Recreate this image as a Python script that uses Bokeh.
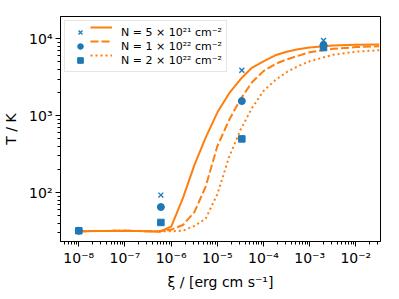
from bokeh.plotting import figure
from bokeh.models import Range1d, Legend, LegendItem, FixedTicker, CustomJSTickFormatter
from bokeh.embed import file_html
from bokeh.resources import INLINE

# ---- data ----
xi_grid = [1e-8, 1e-7, 3e-7, 5.6e-7, 1e-6, 1.8e-6, 3.2e-6, 5.6e-6, 1e-5, 1.8e-5,
           3.2e-5, 5.6e-5, 1e-4, 1.8e-4, 3.2e-4, 5.6e-4, 1e-3, 3.2e-3, 1e-2, 3.2e-2]
T_5e21 = [31.5, 32, 31.5, 31, 36, 85, 230, 520, 1100, 1950,
          3000, 4200, 5100, 6100, 6800, 7300, 7700, 8200, 8400, 8450]
T_1e22 = [31.5, 32, 31.5, 31.5, 33, 38, 56, 120, 400, 880,
          1650, 2700, 3800, 4700, 5400, 6000, 6700, 7400, 7800, 8000]
T_2e22 = [31.5, 32, 31.5, 31.5, 31.5, 32, 37, 46, 95, 290,
          660, 1250, 2100, 2900, 3700, 4400, 5100, 6200, 6800, 7100]

xi_sim = [1e-8, 6e-7, 3.4e-5, 2e-3]
Tsim_5e21 = [32, 93, 3900, 9500]
Tsim_1e22 = [32, 65, 1550, 8300]
Tsim_2e22 = [32, 41, 500, 7700]

labels = ["N = 5 × 10²¹ cm⁻²", "N = 1 × 10²² cm⁻²", "N = 2 × 10²² cm⁻²"]

x_decades = list(range(-8, -1))
y_decades = [2, 3, 4]

ORANGE = "#ff7f0e"
BLUE = "#1f77b4"
FONT = "DejaVu Sans"

p = figure(x_axis_type="log", y_axis_type="log",
           x_range=Range1d(10 ** -8.396, 10 ** -1.465),
           y_range=Range1d(10 ** 1.365, 10 ** 4.29),
           frame_width=320, frame_height=225,
           min_border_left=54, min_border_right=9, min_border_top=16, min_border_bottom=50,
           output_backend="svg", toolbar_location=None)

p.background_fill_color = "white"
p.border_fill_color = "white"
p.outline_line_color = "black"
p.outline_line_width = 1
p.xgrid.visible = False
p.ygrid.visible = False

sup_js = """
const e = Math.round(Math.log10(tick));
const sup = {'-':'\\u207b','0':'\\u2070','1':'\\u00b9','2':'\\u00b2','3':'\\u00b3','4':'\\u2074','5':'\\u2075','6':'\\u2076','7':'\\u2077','8':'\\u2078','9':'\\u2079'};
return '10' + String(e).split('').map(c => sup[c]).join('');
"""

p.xaxis.ticker = FixedTicker(ticks=[10.0 ** k for k in x_decades],
                             minor_ticks=[m * 10.0 ** k for k in range(-9, -1) for m in range(2, 10)])
p.yaxis.ticker = FixedTicker(ticks=[10.0 ** k for k in y_decades],
                             minor_ticks=[m * 10.0 ** k for k in range(1, 5) for m in range(2, 10)])
for ax in (p.xaxis[0], p.yaxis[0]):
    ax.formatter = CustomJSTickFormatter(code=sup_js)
    ax.major_label_text_font = FONT
    ax.major_label_text_font_size = "14px"
    ax.major_label_text_color = "black"
    ax.axis_label_text_font = FONT
    ax.axis_label_text_font_size = "14px"
    ax.axis_label_text_font_style = "normal"
    ax.axis_label_text_color = "black"
    ax.axis_line_color = "black"
    ax.major_tick_line_color = "black"
    ax.minor_tick_line_color = "black"
    ax.major_tick_in = 0
    ax.major_tick_out = 5
    ax.minor_tick_in = 0
    ax.minor_tick_out = 3

p.xaxis.axis_label = "ξ / [erg cm s⁻¹]"
p.yaxis.axis_label = "T / K"
p.xaxis.major_label_standoff = 3
p.xaxis.axis_label_standoff = 5
p.yaxis.major_label_standoff = 3
p.yaxis.axis_label_standoff = 7

r1 = p.line(xi_grid, T_5e21, line_color=ORANGE, line_width=2)
r2 = p.line(xi_grid, T_1e22, line_color=ORANGE, line_width=2, line_dash="8 3")
r3 = p.line(xi_grid, T_2e22, line_color=ORANGE, line_width=2, line_dash="2 3")

s1 = p.scatter(xi_sim, Tsim_5e21, marker="x", size=7, line_color=BLUE, line_width=1.3)
s2 = p.scatter(xi_sim, Tsim_1e22, marker="circle", size=7, fill_color=BLUE, line_color=BLUE)
s3 = p.scatter(xi_sim, Tsim_2e22, marker="square", size=6.5, fill_color=BLUE, line_color=BLUE)

leg_box = Legend(items=[LegendItem(label=labels[i], renderers=[r]) for i, r in enumerate([s1, s2, s3])],
                 location="top_left", margin=4, padding=4,
                 glyph_width=22, glyph_height=14, spacing=-2, label_height=12,
                 label_standoff=30, label_text_font=FONT, label_text_font_size="11px",
                 label_text_color="black",
                 border_line_color="#cccccc", border_line_width=1,
                 background_fill_color="white", background_fill_alpha=0.85)
leg_lines = Legend(items=[LegendItem(label="", renderers=[r]) for r in [r1, r2, r3]],
                   location=(30, 225 - 8 - 38), margin=0, padding=0,
                   glyph_width=22, glyph_height=14, spacing=-2, label_height=12,
                   label_standoff=0, label_text_font=FONT, label_text_font_size="11px",
                   border_line_color=None, background_fill_alpha=0)
p.add_layout(leg_box)
p.add_layout(leg_lines)

open("out.html", "w", encoding="utf-8").write(file_html(p, INLINE))
